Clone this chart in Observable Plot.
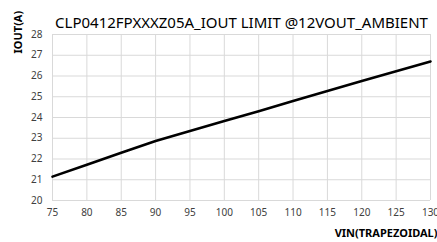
<!DOCTYPE html>
<html><head><meta charset="utf-8">
<script src="https://cdn.jsdelivr.net/npm/d3@7"></script>
<script src="https://cdn.jsdelivr.net/npm/@observablehq/plot@0.6"></script>
<style>body{margin:0;background:#fff}</style>
</head><body><div id="chart"></div>
<script>
const vin = [75, 80, 85, 90, 95, 100, 105, 110, 115, 120, 125, 130];
const iout = [21.15, 21.72, 22.3, 22.87, 23.35, 23.83, 24.3, 24.8, 25.28, 25.76, 26.23, 26.7];
const xTicks = [75, 80, 85, 90, 95, 100, 105, 110, 115, 120, 125, 130];
const yTicks = [20, 21, 22, 23, 24, 25, 26, 27, 28];
const title = "CLP0412FPXXXZ05A_IOUT LIMIT @12VOUT_AMBIENT";
const xLabel = "VIN(TRAPEZOIDAL)";
const yLabel = "IOUT(A)";
const data = vin.map((v, i) => ({vin: v, iout: iout[i]}));
const font = "Noto Sans, sans-serif";
const chart = Plot.plot({
  width: 437, height: 242,
  marginTop: 34, marginBottom: 42, marginLeft: 52, marginRight: 7,
  style: {fontFamily: font, fontSize: "10px", color: "#404040", background: "#fff"},
  x: {domain: [75, 130], ticks: xTicks, label: null},
  y: {domain: [20, 28], ticks: yTicks, label: null},
  marks: [
    Plot.gridX(xTicks, {stroke: "#d9d9d9", strokeOpacity: 1}),
    Plot.gridY(yTicks, {stroke: "#d9d9d9", strokeOpacity: 1}),
    Plot.axisX(xTicks, {tickSize: 0, tickPadding: 8, fill: "#404040"}),
    Plot.axisY(yTicks, {tickSize: 0, tickPadding: 10, fill: "#404040"}),
    Plot.line(data, {x: "vin", y: "iout", stroke: "#000", strokeWidth: 2.6}),
    Plot.text([title], {frameAnchor: "top", dy: -17, fontSize: 15, fill: "#000"}),
    Plot.text([yLabel], {frameAnchor: "top-left", dx: -38, dy: 19, rotate: -90, fontWeight: "bold", fontSize: 11, fill: "#000"}),
    Plot.text([xLabel], {frameAnchor: "bottom-right", dx: 7, dy: 36, textAnchor: "end", fontWeight: "bold", fontSize: 11, fill: "#000"})
  ]
});
document.getElementById("chart").appendChild(chart);
</script></body></html>
